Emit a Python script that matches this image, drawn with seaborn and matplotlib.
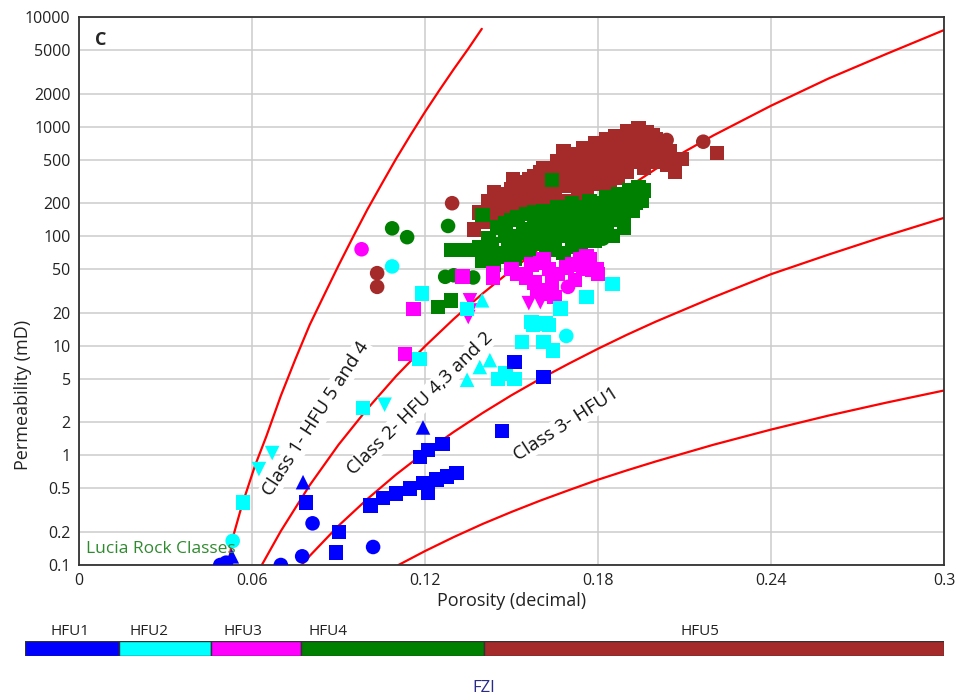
import numpy as np
import pandas as pd
import matplotlib
matplotlib.use("Agg")
import matplotlib.pyplot as plt
from matplotlib.ticker import NullLocator
import seaborn as sns

# Lucia rock class boundary curves
c1_phi = [0.0517, 0.0534, 0.0565, 0.061, 0.065, 0.07, 0.075, 0.08, 0.085, 0.09, 0.095, 0.10, 0.105, 0.11,
          0.115, 0.12, 0.125, 0.13, 0.135, 0.1397]
c1_k = [0.1, 0.18, 0.35, 0.8, 1.5, 3.5, 7.5, 15.5, 29, 54, 98, 175, 300, 510, 840, 1360, 2150, 3350, 5130, 7800]
c2_phi = [0.0634, 0.07, 0.08, 0.09, 0.10, 0.11, 0.12, 0.13, 0.14, 0.15, 0.16, 0.17, 0.18, 0.19, 0.20, 0.21,
          0.22, 0.24, 0.26, 0.28, 0.30]
c2_k = [0.1, 0.204, 0.534, 1.25, 2.66, 5.3, 9.9, 17.6, 30, 49, 78.5, 121, 185, 275, 410, 590, 830, 1550,
        2750, 4600, 7600]
c3_phi = [0.0772, 0.08, 0.09, 0.10, 0.11, 0.12, 0.13, 0.14, 0.15, 0.16, 0.17, 0.18, 0.19, 0.20, 0.22, 0.24,
          0.26, 0.28, 0.30]
c3_k = [0.1, 0.121, 0.228, 0.40, 0.67, 1.07, 1.64, 2.44, 3.54, 5.0, 6.9, 9.4, 12.6, 16.6, 27.7, 45, 68, 101, 147]
c4_phi = [0.1108, 0.12, 0.13, 0.14, 0.15, 0.16, 0.17, 0.18, 0.19, 0.20, 0.22, 0.24, 0.26, 0.28, 0.30]
c4_k = [0.1, 0.134, 0.18, 0.237, 0.305, 0.387, 0.483, 0.60, 0.73, 0.88, 1.25, 1.72, 2.31, 3.03, 3.91]

# HFU5 (brown)
hfu5_sq_phi = [0.137, 0.139, 0.141, 0.142, 0.144, 0.146, 0.147, 0.149, 0.150, 0.151, 0.153, 0.154, 0.155, 0.156, 0.158,
               0.159, 0.160, 0.161, 0.162, 0.163, 0.164, 0.165, 0.166, 0.167, 0.168, 0.169, 0.170, 0.171, 0.172, 0.173,
               0.174, 0.175, 0.176, 0.177, 0.178, 0.179, 0.180, 0.181, 0.182, 0.183, 0.184, 0.185, 0.186, 0.187, 0.188,
               0.189, 0.190, 0.191, 0.192, 0.193, 0.194, 0.195, 0.196, 0.197, 0.198, 0.199, 0.200, 0.201, 0.203, 0.204,
               0.144, 0.1425, 0.1505, 0.209, 0.2067, 0.2212,
               0.152, 0.155, 0.157, 0.158, 0.160, 0.161, 0.163, 0.165, 0.166, 0.168, 0.169, 0.170, 0.171, 0.172,
               0.173, 0.174, 0.175, 0.176, 0.177, 0.178, 0.179, 0.180, 0.181, 0.182, 0.183, 0.184, 0.185, 0.186,
               0.187, 0.188, 0.189, 0.190, 0.191, 0.192, 0.193, 0.194, 0.195, 0.196, 0.197, 0.198, 0.199, 0.200,
               0.202, 0.202, 0.205, 0.186, 0.180, 0.176, 0.170, 0.165, 0.160, 0.156, 0.148, 0.145,
               0.162, 0.167, 0.173, 0.178, 0.184, 0.189, 0.194, 0.198, 0.158, 0.168, 0.182, 0.191]
hfu5_sq_k = [115, 165, 135, 210, 150, 240, 175, 145, 270, 200, 310, 160, 240, 330, 190,
             280, 380, 220, 320, 420, 250, 180, 370, 460, 290, 210, 410, 500, 330, 240,
             560, 450, 270, 380, 620, 500, 300, 680, 430, 560, 270, 740, 340, 620, 480,
             820, 390, 700, 900, 540, 960, 780, 420, 880, 620, 480, 760, 560, 640, 450,
             253, 150, 330, 505, 385, 575,
             250, 290, 230, 350, 300, 420, 350, 330, 480, 400, 520, 300, 370, 470,
             560, 350, 640, 520, 320, 450, 700, 560, 380, 520, 760, 640, 450, 820,
             360, 700, 540, 900, 600, 480, 780, 680, 880, 620, 750, 520, 840, 580,
             700, 480, 600, 560, 420, 420, 360, 260, 250, 200, 220, 190,
             270, 340, 420, 540, 600, 660, 820, 720, 300, 600, 350, 800]
hfu5_ci_phi = [0.1034, 0.1034, 0.1294, 0.2038, 0.2165]
hfu5_ci_k = [46, 34.5, 200, 755, 728]

# HFU4 (green)
hfu4_sq_phi = [0.129, 0.1325, 0.136, 0.139, 0.140, 0.142, 0.144, 0.145, 0.147, 0.148, 0.150, 0.151, 0.152, 0.154, 0.155,
               0.156, 0.157, 0.158, 0.160, 0.161, 0.162, 0.163, 0.165, 0.166, 0.167, 0.168, 0.169, 0.170, 0.171, 0.172,
               0.174, 0.175, 0.176, 0.177, 0.178, 0.179, 0.180, 0.182, 0.183, 0.184, 0.185, 0.186, 0.188, 0.189, 0.190,
               0.191, 0.192, 0.193, 0.194, 0.195, 0.1245, 0.129, 0.140, 0.164,
               0.141, 0.143, 0.146, 0.149, 0.150, 0.153, 0.155, 0.157, 0.159, 0.160, 0.162, 0.164, 0.165, 0.167,
               0.168, 0.170, 0.171, 0.173, 0.174, 0.176, 0.177, 0.179, 0.181, 0.181, 0.183, 0.185, 0.187, 0.188,
               0.189, 0.191, 0.193, 0.196, 0.148, 0.152, 0.158, 0.163, 0.169, 0.174, 0.180, 0.187]
hfu4_sq_k = [75, 75, 75, 80, 60, 95, 55, 120, 70, 100, 140, 62, 85, 115, 160,
             70, 95, 130, 105, 170, 75, 140, 95, 185, 120, 70, 150, 100, 200, 130,
             85, 165, 110, 210, 140, 90, 180, 120, 225, 150, 100, 190, 240, 150, 200,
             260, 170, 230, 280, 210, 22.5, 26, 156, 325,
             70, 85, 65, 90, 75, 100, 80, 115, 85, 140, 100, 115, 75, 160,
             100, 125, 80, 155, 110, 130, 95, 165, 105, 150, 130, 170, 140, 190,
             120, 180, 200, 260, 130, 150, 165, 170, 175, 185, 200, 240]
hfu4_ci_phi = [0.1086, 0.1138, 0.128, 0.127, 0.130, 0.1367, 0.185, 0.1817]
hfu4_ci_k = [118, 98, 124, 42.6, 44, 42, 160, 95]

# HFU3 (magenta)
hfu3_sq_phi = [0.113, 0.116, 0.133, 0.1436, 0.150, 0.155, 0.160, 0.164, 0.159, 0.162, 0.169, 0.174, 0.178, 0.177,
               0.164, 0.161, 0.1436, 0.176, 0.1797, 0.152, 0.157, 0.163, 0.166, 0.171, 0.175, 0.158, 0.165,
               0.172, 0.180]
hfu3_sq_k = [8.4, 21.7, 43, 42, 50, 42, 57, 42, 32, 30, 52, 61, 49, 61, 35, 61, 46, 65, 50, 45, 55, 50, 45,
             55, 50, 38, 28, 40, 45]
hfu3_ci_phi = [0.098, 0.1696]
hfu3_ci_k = [76, 34.5]
hfu3_td_phi = [0.1356, 0.1356, 0.156, 0.160, 0.135]
hfu3_td_k = [21, 26, 24.5, 25, 18.3]

# HFU2 (cyan)
hfu2_sq_phi = [0.0569, 0.0985, 0.118, 0.1453, 0.151, 0.148, 0.1537, 0.161, 0.1644, 0.1575, 0.163, 0.119, 0.157,
               0.162, 0.167, 0.176, 0.185, 0.1346]
hfu2_sq_k = [0.37, 2.7, 7.6, 5.0, 5.0, 5.6, 10.8, 10.8, 9.1, 15.5, 15.5, 30, 16.5, 16, 22, 28, 36.5, 21.7]
hfu2_ci_phi = [0.0533, 0.1086, 0.169]
hfu2_ci_k = [0.166, 53, 12.3]
hfu2_td_phi = [0.0624, 0.067, 0.106]
hfu2_td_k = [0.75, 1.05, 2.9]
hfu2_tu_phi = [0.1425, 0.139, 0.1346, 0.1398]
hfu2_tu_k = [7.4, 6.4, 4.9, 26]

# HFU1 (blue)
hfu1_sq_phi = [0.0787, 0.0902, 0.0891, 0.101, 0.1054, 0.110, 0.1148, 0.1193, 0.121, 0.124, 0.1276, 0.131, 0.1183,
               0.121, 0.126, 0.1467, 0.161, 0.151]
hfu1_sq_k = [0.37, 0.2, 0.13, 0.35, 0.41, 0.45, 0.50, 0.56, 0.46, 0.60, 0.64, 0.69, 0.97, 1.12, 1.27, 1.67, 5.2, 7.1]
hfu1_ci_phi = [0.049, 0.051, 0.081, 0.0774, 0.070, 0.102]
hfu1_ci_k = [0.1, 0.105, 0.24, 0.12, 0.1, 0.146]
hfu1_tu_phi = [0.0777, 0.1193, 0.053]
hfu1_tu_k = [0.57, 1.8, 0.12]

hfu_names = ["HFU1", "HFU2", "HFU3", "HFU4", "HFU5"]
hfu_colors = ["#0000ff", "#00ffff", "#ff00ff", "#008000", "#a52a2a"]
hfu_bar_widths = [94, 92, 90, 183, 460]

y_ticks = [0.1, 0.2, 0.5, 1, 2, 5, 10, 20, 50, 100, 200, 500, 1000, 2000, 5000, 10000]
y_labels = ["0.1", "0.2", "0.5", "1", "2", "5", "10", "20", "50", "100", "200", "500", "1000", "2000", "5000", "10000"]
x_ticks = [0, 0.06, 0.12, 0.18, 0.24, 0.3]
x_labels = ["0", "0.06", "0.12", "0.18", "0.24", "0.3"]

# build one table, brown first so the lower units sit on top
groups = [
    ("HFU5", "sq", hfu5_sq_phi, hfu5_sq_k), ("HFU5", "ci", hfu5_ci_phi, hfu5_ci_k),
    ("HFU4", "sq", hfu4_sq_phi, hfu4_sq_k), ("HFU4", "ci", hfu4_ci_phi, hfu4_ci_k),
    ("HFU3", "sq", hfu3_sq_phi, hfu3_sq_k), ("HFU3", "ci", hfu3_ci_phi, hfu3_ci_k),
    ("HFU3", "td", hfu3_td_phi, hfu3_td_k),
    ("HFU2", "sq", hfu2_sq_phi, hfu2_sq_k), ("HFU2", "ci", hfu2_ci_phi, hfu2_ci_k),
    ("HFU2", "td", hfu2_td_phi, hfu2_td_k), ("HFU2", "tu", hfu2_tu_phi, hfu2_tu_k),
    ("HFU1", "sq", hfu1_sq_phi, hfu1_sq_k), ("HFU1", "ci", hfu1_ci_phi, hfu1_ci_k),
    ("HFU1", "tu", hfu1_tu_phi, hfu1_tu_k),
]
df = pd.concat([pd.DataFrame({"phi": p, "k": k, "unit": u, "shape": s}) for u, s, p, k in groups],
               ignore_index=True)

sns.set_style("white")
plt.rcParams["font.family"] = ["Open Sans", "DejaVu Sans"]

fig = plt.figure(figsize=(9.69, 6.97), dpi=100)
ax = fig.add_axes([79 / 969, 1 - 565 / 697, 865 / 969, 548 / 697])
ax.set_yscale("log")

for cp, ck in [(c1_phi, c1_k), (c2_phi, c2_k), (c3_phi, c3_k), (c4_phi, c4_k)]:
    sns.lineplot(x=cp, y=ck, sort=False, estimator=None, color="red", linewidth=1.6, ax=ax, zorder=2)

sns.scatterplot(data=df, x="phi", y="k", hue="unit", style="shape",
                palette=dict(zip(hfu_names, hfu_colors)),
                markers={"sq": "s", "ci": "o", "tu": "^", "td": "v"},
                s=110, linewidth=0, legend=False, ax=ax, zorder=3)

ax.set_xlim(0, 0.3)
ax.set_ylim(0.1, 10000)
ax.set_xticks(x_ticks)
ax.set_xticklabels(x_labels)
ax.set_yticks(y_ticks)
ax.set_yticklabels(y_labels)
ax.yaxis.set_minor_locator(NullLocator())
ax.grid(True, color="#cccccc", linewidth=1.1, zorder=0)
ax.set_axisbelow(True)
ax.tick_params(length=0, labelsize=11.5, colors="#222222", pad=6)
for sp in ax.spines.values():
    sp.set_color("#333333")
    sp.set_linewidth(1.3)

ax.set_xlabel("Porosity (decimal)", fontsize=13, color="#222222")
ax.set_ylabel("Permeability (mD)", fontsize=13, color="#222222")
ax.xaxis.set_label_coords(0.5, -0.05)
ax.yaxis.set_label_coords(-0.054, 0.31)

# rock class annotations
lab_box = dict(facecolor="white", edgecolor="none", pad=1)
ax.text(0.0822, 2.15, "Class 1- HFU 5 and 4", rotation=57, ha="center", va="center",
        fontsize=13.7, color="#111111", bbox=lab_box, zorder=5)
ax.text(0.1183, 2.98, "Class 2- HFU 4,3 and 2", rotation=44.4, ha="center", va="center",
        fontsize=13.7, color="#111111", bbox=lab_box, zorder=5)
ax.text(0.169, 1.94, "Class 3- HFU1", rotation=32.7, ha="center", va="center",
        fontsize=13.7, color="#111111", bbox=lab_box, zorder=5)
ax.text(0.0185, 0.958, "C", transform=ax.transAxes, fontsize=13, fontweight="bold", va="center")
ax.text(0.008, 0.029, "Lucia Rock Classes", transform=ax.transAxes, fontsize=12.5,
        color="#2f8a2f", va="center", zorder=4)

# colour bar legend for the flow units
bar_ax = fig.add_axes([25 / 969, 1 - 656 / 697, 919 / 969, 15 / 697])
starts = np.concatenate([[0], np.cumsum(hfu_bar_widths)[:-1]])
bar_ax.barh(0, hfu_bar_widths, left=starts, height=1, color=hfu_colors, edgecolor="#333333", linewidth=1)
bar_ax.set_xlim(0, sum(hfu_bar_widths))
bar_ax.set_ylim(-0.5, 0.5)
bar_ax.axis("off")
label_x = [45, 124, 218, 303, 675]
for name, lx in zip(hfu_names, label_x):
    bar_ax.text(lx, 1.15, name, ha="center", va="center", fontsize=11, color="#222222")
fig.text(484 / 969, 1 - 688 / 697, "FZI", ha="center", va="center", fontsize=12, color="#2a2a8a")

fig.savefig("out.png", dpi=100)
